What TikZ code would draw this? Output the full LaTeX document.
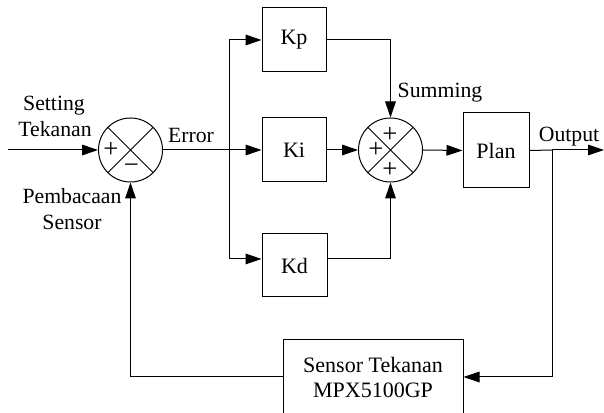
\documentclass[tikz,border=0pt]{standalone}
\usepackage{fontspec}
\setmainfont{Liberation Serif}
\usetikzlibrary{arrows.meta}
\begin{document}
\begin{tikzpicture}[x=0.75pt,y=-0.75pt,
  line width=0.75pt,
  arr/.style={-{Triangle[length=12pt,width=8pt]}},
  blk/.style={draw, inner sep=0pt, font=\fontsize{16.5}{18.75}\selectfont},
  sumc/.style={draw, circle, minimum size=48pt, inner sep=0pt},
  lbl/.style={inner sep=0pt, font=\fontsize{16.3}{18}\selectfont},
  sgn/.style={inner sep=0pt, font=\fontsize{20}{22}\selectfont},
  mns/.style={inner sep=0pt, font=\fontsize{20}{22}\selectfont}]
\useasboundingbox (0,0) rectangle (604,413);
% summing junction 1
\node[sumc] (s1) at (130.5,150) {};
\draw (s1.north west) -- (s1.south east) (s1.north east) -- (s1.south west);
\node[sgn] (p1) at (111,150) {+};
\node[mns] (m1) at (131.5,169) {−};
% PID blocks
\node[blk, minimum width=48pt, minimum height=48pt] (kp) at (294,40) {Kp};
\node[blk, minimum width=48pt, minimum height=48pt] (ki) at (294,150) {Ki};
\node[blk, minimum width=48.75pt, minimum height=47.25pt] (kd) at (294.5,265.5) {Kd};
% summing junction 2
\node[sumc] (s2) at (390.5,150) {};
\draw (s2.north west) -- (s2.south east) (s2.north east) -- (s2.south west);
\node[sgn] (p2) at (390,135) {+};
\node[sgn] (p3) at (376,150) {+};
\node[sgn] (p4) at (390,170) {+};
% plant and sensor
\node[blk, minimum width=49.5pt, minimum height=56.25pt] (plan) at (496,150.5) {Plan};
\node[blk, minimum width=135pt, minimum height=55.5pt, align=center] (sens) at (373,377) {Sensor Tekanan\\MPX5100GP};
% coordinates
\coordinate (in) at (8,150);
\coordinate (br) at (229,150);
\coordinate (ob) at (552,150);
\coordinate (out) at (604,150);
% connectors
\draw[arr] (in) -- (s1.west);
\draw (s1.east) -- (br);
\draw[arr] (br) -- (ki.west);
\draw[arr] (br) |- (kp.west);
\draw[arr] (br) |- ([yshift=4.9pt]kd.west);
\draw[arr] (kp.east) -| (s2.north);
\draw[arr] (ki.east) -- (s2.west);
\draw[arr] ([yshift=4.9pt]kd.east) -| (s2.south);
\draw[arr] (s2.east) -- (plan.west);
\draw (plan.east) -- (ob);
\draw[arr] (ob) -- (out);
\draw[arr] (ob) |- (sens.east);
\draw[arr] (sens.west) -| (s1.south);
% labels
\node[lbl, anchor=base] (lset) at (54,111) {Setting};
\node[lbl, anchor=base] (ltek) at (55,137) {Tekanan};
\node[lbl, anchor=base] (lerr) at (191,143) {Error};
\node[lbl, anchor=base] (lpem) at (72,204) {Pembacaan};
\node[lbl, anchor=base] (lsen) at (72,230) {Sensor};
\node[lbl, anchor=base] (lsum) at (440,98) {Summing};
\node[lbl, anchor=base] (lout) at (569,142) {Output};
\end{tikzpicture}
\end{document}
